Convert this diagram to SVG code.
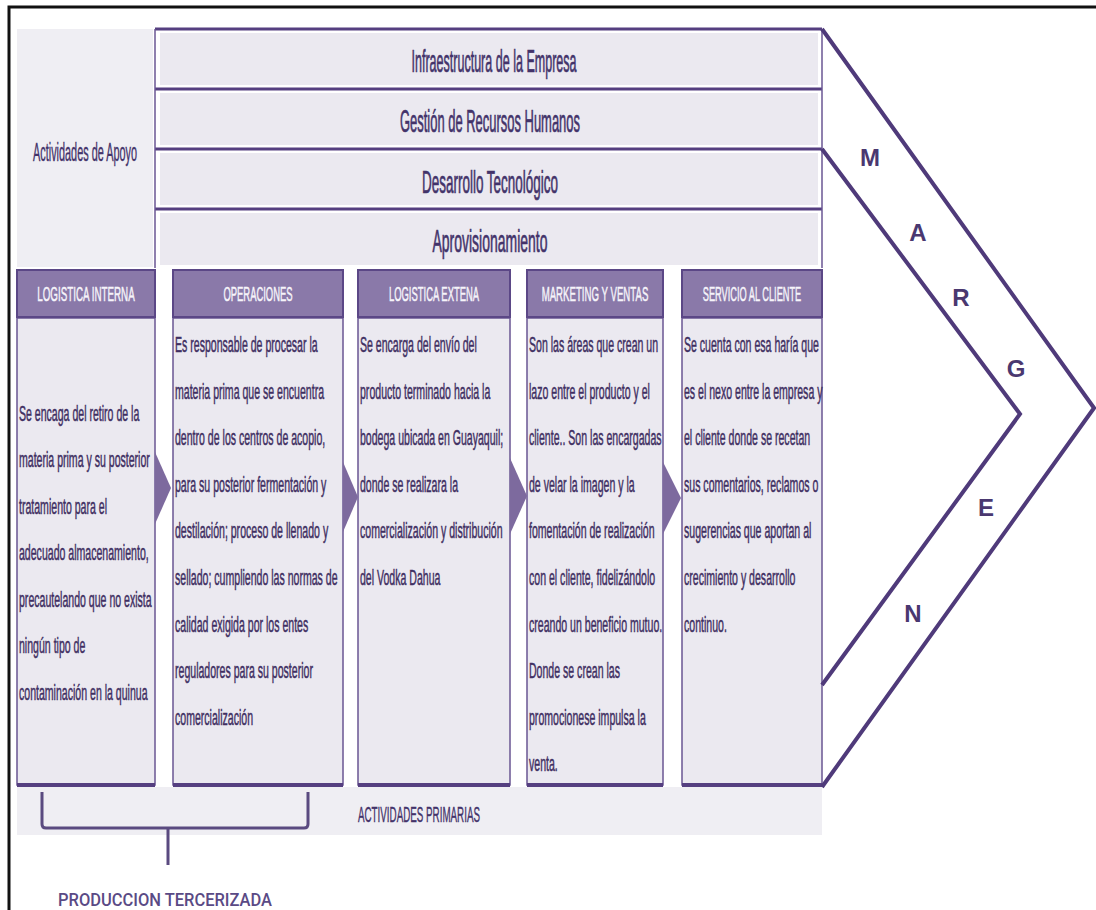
<svg xmlns="http://www.w3.org/2000/svg" width="1096" height="910" viewBox="0 0 1096 910">
  <style>
    .frame { stroke: #111; stroke-width: 3; fill: none; }
    .area { fill: #efeef3; }
    .bar-line { stroke: #553f80; stroke-width: 3; }
    .bar-side { stroke: #6a5693; stroke-width: 1.5; }
    .bar-fill { fill: #ebe9f0; }
    .bar-text { font-family: "Liberation Sans", Arial, sans-serif; font-size: 32px; fill: #43336a; stroke: #43336a; stroke-width: 0.7; text-anchor: middle; }
    .label { font-family: "Liberation Sans", Arial, sans-serif; font-size: 22px; fill: #43336a; stroke: #43336a; stroke-width: 0.4; }
    .head { fill: #8a79a9; stroke: #5b4786; stroke-width: 2; }
    .head-text { font-family: "Liberation Sans", Arial, sans-serif; font-size: 21px; fill: #f6f4fa; stroke: #f6f4fa; stroke-width: 0.5; text-anchor: middle; }
    .body { fill: #ebe9f0; stroke: #6a5693; stroke-width: 1.5; }
    .body-base { stroke: #553f80; stroke-width: 4; }
    .body-text { font-family: "Liberation Sans", Arial, sans-serif; font-size: 22px; fill: #3f2f62; stroke: #3f2f62; stroke-width: 0.5; }
    .chev { fill: #7d6a9e; }
    .margin { fill: none; stroke: #4f3a7a; stroke-width: 4; stroke-linejoin: miter; }
    .letter { font-family: "Liberation Sans", Arial, sans-serif; font-size: 24px; font-weight: bold; fill: #4a3870; text-anchor: middle; }
    .brace { fill: none; stroke: #5a4a80; stroke-width: 3; }
    .foot { font-family: Roboto, "Liberation Sans", sans-serif; font-size: 19px; font-weight: 500; fill: #5a4a85; }
  </style>

  <!-- outer frame -->
  <path class="frame" d="M9,910 V7 H1096"/>

  <!-- support activities -->
  <g id="support-label">
    <rect class="area" x="17" y="29" width="136" height="238"/>
    <text class="label" x="85" y="161" text-anchor="middle" textLength="104" lengthAdjust="spacingAndGlyphs" style="font-size:25px">Actividades de Apoyo</text>
  </g>

  <g id="bar-infraestructura">
    <rect class="bar-fill" x="160" y="33" width="658" height="52"/>
    <line class="bar-line" x1="155" y1="29" x2="822" y2="29"/>
    <text class="bar-text" x="494" y="72" textLength="165" lengthAdjust="spacingAndGlyphs">Infraestructura de la Empresa</text>
  </g>
  <g id="bar-rrhh">
    <rect class="bar-fill" x="160" y="93" width="658" height="52"/>
    <line class="bar-line" x1="155" y1="89" x2="822" y2="89"/>
    <text class="bar-text" x="490" y="132" textLength="180" lengthAdjust="spacingAndGlyphs">Gestión de Recursos Humanos</text>
  </g>
  <g id="bar-tecnologia">
    <rect class="bar-fill" x="160" y="153" width="658" height="52"/>
    <line class="bar-line" x1="155" y1="149" x2="822" y2="149"/>
    <text class="bar-text" x="490" y="193" textLength="136" lengthAdjust="spacingAndGlyphs">Desarrollo Tecnológico</text>
  </g>
  <g id="bar-aprovisionamiento">
    <rect class="bar-fill" x="160" y="213" width="658" height="52"/>
    <line class="bar-line" x1="155" y1="209" x2="822" y2="209"/>
    <text class="bar-text" x="490" y="252" textLength="115" lengthAdjust="spacingAndGlyphs">Aprovisionamiento</text>
  </g>
  <line class="bar-side" x1="155" y1="29" x2="155" y2="268"/>
  <line class="bar-side" x1="822" y1="29" x2="822" y2="268"/>

  <!-- bottom strip -->
  <g id="primary-label">
    <rect class="area" x="17" y="787" width="805" height="48"/>
    <text class="label" x="358" y="822" textLength="122" lengthAdjust="spacingAndGlyphs">ACTIVIDADES PRIMARIAS</text>
  </g>

  <!-- primary activities -->
  <g id="logistica-interna">
    <rect class="body" x="17" y="318" width="138" height="467"/>
    <line class="body-base" x1="17" y1="785" x2="155" y2="785"/>
    <rect class="head" x="17" y="270" width="138" height="47"/>
    <g transform="translate(86,301) scale(0.467,1)"><text class="head-text">LOGISTICA INTERNA</text></g>
    <g transform="translate(19,0) scale(0.48,1)">
      <text class="body-text" x="0" y="421">Se encaga del retiro de la</text>
      <text class="body-text" x="0" y="467.5">materia prima y su posterior</text>
      <text class="body-text" x="0" y="514">tratamiento para el</text>
      <text class="body-text" x="0" y="560.5">adecuado almacenamiento,</text>
      <text class="body-text" x="0" y="607">precautelando que no exista</text>
      <text class="body-text" x="0" y="653.5">ningún tipo de</text>
      <text class="body-text" x="0" y="700">contaminación en la quinua</text>
    </g>
  </g>

  <g id="operaciones">
    <rect class="body" x="173" y="318" width="170" height="467"/>
    <line class="body-base" x1="173" y1="785" x2="343" y2="785"/>
    <rect class="head" x="173" y="270" width="170" height="47"/>
    <g transform="translate(258,301) scale(0.45,1)"><text class="head-text">OPERACIONES</text></g>
    <g transform="translate(175,0) scale(0.48,1)">
      <text class="body-text" x="0" y="352">Es responsable de procesar la</text>
      <text class="body-text" x="0" y="398.6">materia prima que se encuentra</text>
      <text class="body-text" x="0" y="445.2">dentro de los centros de acopio,</text>
      <text class="body-text" x="0" y="491.8">para su posterior fermentación y</text>
      <text class="body-text" x="0" y="538.4">destilación; proceso de llenado y</text>
      <text class="body-text" x="0" y="585">sellado; cumpliendo las normas de</text>
      <text class="body-text" x="0" y="631.6">calidad exigida por los entes</text>
      <text class="body-text" x="0" y="678.2">reguladores para su posterior</text>
      <text class="body-text" x="0" y="724.8">comercialización</text>
    </g>
  </g>

  <g id="logistica-externa">
    <rect class="body" x="358" y="318" width="152" height="467"/>
    <line class="body-base" x1="358" y1="785" x2="510" y2="785"/>
    <rect class="head" x="358" y="270" width="152" height="47"/>
    <g transform="translate(434,301) scale(0.45,1)"><text class="head-text">LOGISTICA EXTENA</text></g>
    <g transform="translate(360,0) scale(0.48,1)">
      <text class="body-text" x="0" y="352">Se encarga del envío del</text>
      <text class="body-text" x="0" y="398.6">producto terminado hacia la</text>
      <text class="body-text" x="0" y="445.2">bodega ubicada en Guayaquil;</text>
      <text class="body-text" x="0" y="491.8">donde se realizara la</text>
      <text class="body-text" x="0" y="538.4">comercialización y distribución</text>
      <text class="body-text" x="0" y="585">del Vodka Dahua</text>
    </g>
  </g>

  <g id="marketing-ventas">
    <rect class="body" x="527" y="318" width="136" height="467"/>
    <line class="body-base" x1="527" y1="785" x2="663" y2="785"/>
    <rect class="head" x="527" y="270" width="136" height="47"/>
    <g transform="translate(595,301) scale(0.46,1)"><text class="head-text">MARKETING Y VENTAS</text></g>
    <g transform="translate(529,0) scale(0.48,1)">
      <text class="body-text" x="0" y="352">Son las áreas que crean un</text>
      <text class="body-text" x="0" y="398.6">lazo entre el producto y el</text>
      <text class="body-text" x="0" y="445.2">cliente.. Son las encargadas</text>
      <text class="body-text" x="0" y="491.8">de velar la imagen y la</text>
      <text class="body-text" x="0" y="538.4">fomentación de realización</text>
      <text class="body-text" x="0" y="585">con el cliente, fidelizándolo</text>
      <text class="body-text" x="0" y="631.6">creando un beneficio mutuo.</text>
      <text class="body-text" x="0" y="678.2">Donde se crean las</text>
      <text class="body-text" x="0" y="724.8">promocionese impulsa la</text>
      <text class="body-text" x="0" y="771.4">venta.</text>
    </g>
  </g>

  <g id="servicio-cliente">
    <rect class="body" x="682" y="318" width="140" height="467"/>
    <line class="body-base" x1="682" y1="785" x2="822" y2="785"/>
    <rect class="head" x="682" y="270" width="140" height="47"/>
    <g transform="translate(752,301) scale(0.44,1)"><text class="head-text">SERVICIO AL CLIENTE</text></g>
    <g transform="translate(684,0) scale(0.48,1)">
      <text class="body-text" x="0" y="352">Se cuenta con esa haría que</text>
      <text class="body-text" x="0" y="398.6">es el nexo entre la empresa y</text>
      <text class="body-text" x="0" y="445.2">el cliente donde se recetan</text>
      <text class="body-text" x="0" y="491.8">sus comentarios, reclamos o</text>
      <text class="body-text" x="0" y="538.4">sugerencias que aportan al</text>
      <text class="body-text" x="0" y="585">crecimiento y desarrollo</text>
      <text class="body-text" x="0" y="631.6">continuo.</text>
    </g>
  </g>

  <!-- flow chevrons between primary activities -->
  <g id="connectors">
    <polygon class="chev" points="155,452 171,488 155,524"/>
    <polygon class="chev" points="343,462 358,497 343,532"/>
    <polygon class="chev" points="510,458 527,496 510,534"/>
    <polygon class="chev" points="663,462 681,498 663,534"/>
  </g>

  <!-- margin arrow -->
  <g id="margen">
    <polyline class="margin" points="822,29 1094,408 822,787"/>
    <polyline class="margin" points="822,149 1020,414 822,685"/>
    <text class="letter" x="870" y="166">M</text>
    <text class="letter" x="918" y="241">A</text>
    <text class="letter" x="961" y="306">R</text>
    <text class="letter" x="1016" y="377">G</text>
    <text class="letter" x="986" y="516">E</text>
    <text class="letter" x="913" y="622">N</text>
  </g>

  <!-- outsourced production bracket -->
  <g id="produccion-tercerizada">
    <path class="brace" d="M42,792 V824 Q42,828 46,828 H304 Q308,828 308,824 V792 M168,828 V865"/>
    <text class="foot" x="58" y="906" textLength="214" lengthAdjust="spacingAndGlyphs">PRODUCCION TERCERIZADA</text>
  </g>
</svg>
